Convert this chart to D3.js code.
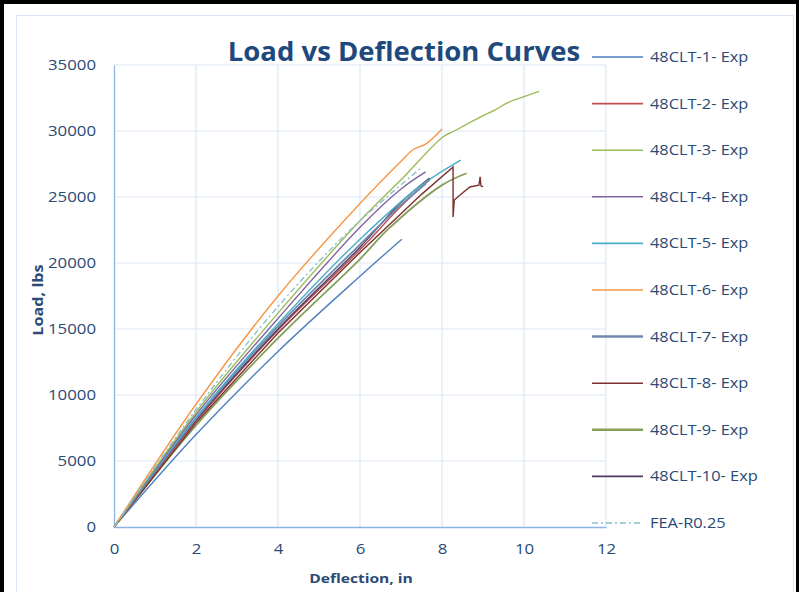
<!DOCTYPE html>
<html>
<head>
<meta charset="utf-8">
<script src="https://cdn.jsdelivr.net/npm/d3@7"></script>
<style>
  body { margin: 0; background: #fff; }
  text { font-family: "Open Sans", "Liberation Sans", sans-serif; }
</style>
</head>
<body>
<script>
const w = 799;
const h = 592;

// series names and colours
const seriesNames = ["48CLT-1- Exp", "48CLT-2- Exp", "48CLT-3- Exp", "48CLT-4- Exp", "48CLT-5- Exp",
                     "48CLT-6- Exp", "48CLT-7- Exp", "48CLT-8- Exp", "48CLT-9- Exp", "48CLT-10- Exp", "FEA-R0.25"];
const seriesColors = ["#4F81BD", "#C0504D", "#9BBB59", "#8064A2", "#4BACC6",
                      "#F79646", "#7189AE", "#7E2F2D", "#869F5A", "#4D3B62", "#8EC0CC"];

// deflection (in) / load (lbs)
const clt1x = [0, 2, 4, 6, 7.02];
const clt1y = [0, 7000, 13300, 19000, 21800];
const clt2x = [0, 2, 4, 6, 7.0, 7.7];
const clt2y = [0, 8000, 14900, 21000, 24300, 26300];
const clt3x = [0, 2, 4, 6, 7, 8.02, 8.3, 8.6, 8.93, 9.3, 9.58, 10, 10.37];
const clt3y = [0, 8700, 16200, 23200, 26300, 29550, 30000, 30500, 31060, 31600, 32120, 32600, 33000];
const clt4x = [0, 2, 4, 6, 7.0, 7.6];
const clt4y = [0, 8500, 15800, 22700, 25600, 26900];
const clt5x = [0, 2, 4, 6, 7.5, 8.46];
const clt5y = [0, 8300, 15400, 21800, 25900, 27800];
const clt6x = [0, 2, 4, 6, 7.0, 7.3, 7.6, 8.0];
const clt6y = [0, 9300, 17500, 24500, 27700, 28600, 29000, 30150];
const clt7x = [0, 2, 4, 6, 7.0, 7.6];
const clt7y = [0, 8200, 15200, 21400, 24400, 26000];
const clt8x = [0, 2, 4, 6, 7.5, 8.27, 8.27, 8.3, 8.44, 8.68, 8.9, 8.93, 8.95, 9.0];
const clt8y = [0, 7900, 14700, 20800, 25200, 27270, 23480, 24770, 25150, 25760, 25900, 26520, 25850, 25760];
const clt9x = [0, 2, 4, 6, 6.7, 8.0, 8.6];
const clt9y = [0, 7700, 14300, 20300, 22600, 25900, 26800];
const clt10x = [0, 2, 4, 6, 7.0, 7.7];
const clt10y = [0, 8100, 15000, 21200, 24600, 26440];
const feaX = [0, 2, 4, 5.76, 7.51];
const feaY = [0, 8900, 16700, 22500, 27270];

const xTicks = [0, 2, 4, 6, 8, 10, 12];
const yTicks = [0, 5000, 10000, 15000, 20000, 25000, 30000, 35000];

const seriesX = [clt1x, clt2x, clt3x, clt4x, clt5x, clt6x, clt7x, clt8x, clt9x, clt10x, feaX];
const seriesY = [clt1y, clt2y, clt3y, clt4y, clt5y, clt6y, clt7y, clt8y, clt9y, clt10y, feaY];

const stretch = 1.2;   // the reference text is drawn wide
const textColor = "#2B4A75";

const xScale = d3.scaleLinear().domain([0, 12]).range([114, 606]);
const yScale = d3.scaleLinear().domain([0, 35000]).range([527, 65]);

const svg = d3.select("body").append("svg")
              .attr("width", w)
              .attr("height", h);

// outer frame
svg.append("rect").attr("x", 0).attr("y", 0).attr("width", w).attr("height", h).attr("fill", "#fff");
svg.append("rect").attr("x", 16.5).attr("y", 15.5).attr("width", 777).attr("height", 590)
   .attr("fill", "none").attr("stroke", "#DCE6F4").attr("stroke-width", 1);
svg.append("rect").attr("x", 2).attr("y", 2).attr("width", w - 3).attr("height", h + 10)
   .attr("fill", "none").attr("stroke", "#000").attr("stroke-width", 4);

// gridlines
svg.append("g").selectAll("line").data(xTicks.slice(1)).enter().append("line")
   .attr("x1", d => xScale(d)).attr("x2", d => xScale(d))
   .attr("y1", yScale(0)).attr("y2", yScale(35000))
   .attr("stroke", "#DDE7F3").attr("stroke-width", 1.2);
svg.append("g").selectAll("line").data(yTicks.slice(1)).enter().append("line")
   .attr("x1", xScale(0)).attr("x2", xScale(12))
   .attr("y1", d => yScale(d)).attr("y2", d => yScale(d))
   .attr("stroke", "#DDE7F3").attr("stroke-width", 1.2);

// axes
const xAxis = d3.axisBottom(xScale).tickValues(xTicks).tickSize(0).tickPadding(17);
const yAxis = d3.axisLeft(yScale).tickValues(yTicks).tickSize(0).tickPadding(18).tickFormat(d3.format("d"));

const gx = svg.append("g").attr("transform", "translate(0," + yScale(0) + ")").call(xAxis);
const gy = svg.append("g").attr("transform", "translate(" + xScale(0) + ",0)").call(yAxis);
[gx, gy].forEach(g => {
  g.select(".domain").attr("stroke", "#8DB3E2").attr("stroke-width", 1.3);
  g.selectAll("text").attr("fill", textColor).attr("font-size", 14)
   .style("font-family", "'Open Sans', sans-serif");
});
gy.selectAll("text").attr("x", -18 / stretch).attr("transform", "scale(" + stretch + ",1)");
gx.selectAll("text").attr("transform", "scale(" + stretch + ",1)");

// lines
const smooth = d3.line().curve(d3.curveCatmullRom.alpha(0.5))
                 .x(d => xScale(d[0])).y(d => yScale(d[1]));
const straight = d3.line().x(d => xScale(d[0])).y(d => yScale(d[1]));
const order = [0, 8, 7, 1, 9, 6, 4, 3, 2, 5, 10];
order.forEach(i => {
  const pts = seriesX[i].map((x, j) => [x, seriesY[i][j]]);
  svg.append("path").datum(pts)
     .attr("d", i === 7 ? straight : smooth)
     .attr("fill", "none")
     .attr("stroke", seriesColors[i])
     .attr("stroke-width", (i === 6 || i === 8) ? 1.8 : 1.4)
     .attr("stroke-dasharray", i === 10 ? "6,3,2,3" : null);
});

// title
svg.append("text").attr("x", 404).attr("y", 61).attr("text-anchor", "middle")
   .attr("font-size", 27.5).attr("font-weight", "bold").attr("fill", "#1F497D")
   .text("Load vs Deflection Curves");

// axis titles
svg.append("text").attr("transform", "translate(361,583) scale(" + stretch + ",1)")
   .attr("text-anchor", "middle")
   .attr("font-size", 13).attr("font-weight", "bold").attr("fill", textColor)
   .text("Deflection, in");
svg.append("text").attr("transform", "translate(43,300) rotate(-90) scale(" + stretch + ",1)")
   .attr("text-anchor", "middle")
   .attr("font-size", 13.5).attr("font-weight", "bold").attr("fill", textColor)
   .text("Load, lbs");

// legend
const legend = svg.append("g").selectAll("g").data(seriesNames).enter().append("g")
   .attr("transform", (d, i) => "translate(592," + (57 + i * 46.6) + ")");
legend.append("line").attr("x1", 0).attr("x2", 51).attr("y1", 0).attr("y2", 0)
   .attr("stroke", (d, i) => seriesColors[i])
   .attr("stroke-width", (d, i) => (i === 6 || i === 8) ? 2.5 : 1.6)
   .attr("stroke-dasharray", (d, i) => i === 10 ? "6,3,2,3" : null);
legend.append("text").attr("transform", "translate(58,5) scale(1.17,1)")
   .attr("font-size", 14).attr("fill", textColor)
   .text(d => d);
</script>
</body>
</html>
